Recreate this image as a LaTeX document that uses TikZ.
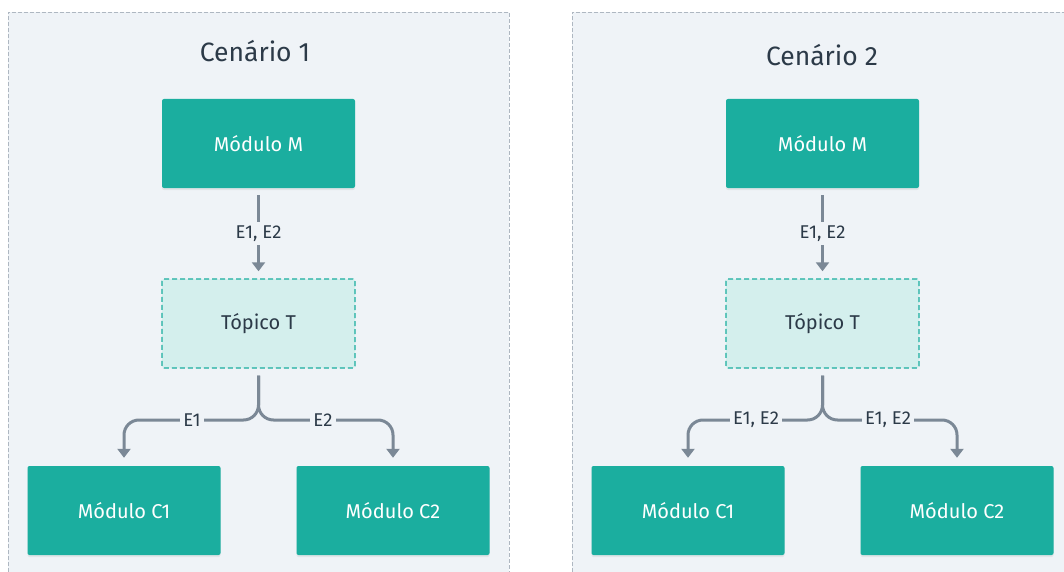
\documentclass[tikz,border=0pt]{standalone}
\usepackage{fontspec}
\setmainfont{Fira Sans}
\usetikzlibrary{arrows.meta,calc,shadows}
\definecolor{teal}{HTML}{1BAE9F}
\definecolor{tealbg}{HTML}{D4EFED}
\definecolor{panelbg}{HTML}{EFF3F7}
\definecolor{panelline}{HTML}{AEB7C1}
\definecolor{conncol}{HTML}{7B8896}
\definecolor{textdark}{HTML}{2C3A48}
\tikzset{
  panelfill/.style={fill=panelbg},
  panel/.style={draw=panelline,dash pattern=on 4pt off 2pt,line width=0.9pt},
  title/.style={font=\fontsize{26.5}{30}\selectfont,text=textdark},
  module/.style={fill=teal,rounded corners=2pt,minimum width=193pt,minimum height=89pt,
    text=white,font=\fontsize{20}{23}\selectfont,
    drop shadow={opacity=0.12,shadow xshift=0pt,shadow yshift=-2pt}},
  topic/.style={fill=tealbg,draw=teal,dash pattern=on 5pt off 3pt,line width=1.4pt,rounded corners=2pt,
    minimum width=193pt,minimum height=89pt,text=textdark,font=\fontsize{20}{23}\selectfont},
  conn/.style={draw=conncol,line width=3pt,-{Triangle[width=13pt,length=9pt]}},
  elabel/.style={fill=panelbg,text=textdark,font=\fontsize{18.5}{21}\selectfont,inner sep=3.5pt},
}
\begin{document}
\begin{tikzpicture}[x=1pt,y=-1pt]
\useasboundingbox (0,0) rectangle (1064,572);
\fill[white] (0,0) rectangle (1064,572);
% panels
\fill[panelfill] (8,12) rectangle (509,590);
\fill[panelfill] (572,12) rectangle (1080,590);
\draw[panel] (8,590) -- (8,12) -- (509,12) -- (509,590);
\draw[panel] (572,590) -- (572,12) -- (1080,12);
\node[title] (t1) at (255,51) {Cenário 1};
\node[title] (t2) at (822,55) {Cenário 2};
% scenario 1
\node[module] (M1) at (258.5,143.5) {Módulo M};
\node[topic] (T1) at (258.5,323.5) {Tópico T};
\node[module] (C11) at (124,510.5) {Módulo C1};
\node[module] (C21) at (393,510.5) {Módulo C2};
% scenario 2
\node[module] (M2) at (822.5,143.5) {Módulo M};
\node[topic] (T2) at (822.5,323.5) {Tópico T};
\node[module] (C12) at (688,510.5) {Módulo C1};
\node[module] (C22) at (957,510.5) {Módulo C2};
\coordinate (h) at (0,420);
% connectors 1
\draw[conn,shorten <=7pt,shorten >=7pt] (M1.south) -- (T1.north) node[elabel,midway] (l1) {E1, E2};
\coordinate (s1) at ($(T1.south)+(0,7)$);
\coordinate (a1) at ($(C11.north)+(0,-8)$);
\coordinate (b1) at ($(C21.north)+(0,-8)$);
\draw[conn,rounded corners=15pt] (s1) -- (s1 |- h) -- (a1 |- h) -- (a1);
\draw[conn,rounded corners=15pt] (s1) -- (s1 |- h) -- (b1 |- h) -- (b1);
\node[elabel] (e11) at (192,420) {E1};
\node[elabel] (e21) at (323,420) {E2};
% connectors 2
\draw[conn,shorten <=7pt,shorten >=7pt] (M2.south) -- (T2.north) node[elabel,midway] (l2) {E1, E2};
\coordinate (s2) at ($(T2.south)+(0,7)$);
\coordinate (a2) at ($(C12.north)+(0,-8)$);
\coordinate (b2) at ($(C22.north)+(0,-8)$);
\draw[conn,rounded corners=15pt] (s2) -- (s2 |- h) -- (a2 |- h) -- (a2);
\draw[conn,rounded corners=15pt] (s2) -- (s2 |- h) -- (b2 |- h) -- (b2);
\node[elabel] (e12) at (756,420) {E1, E2};
\node[elabel] (e22) at (888,420) {E1, E2};
\end{tikzpicture}
\end{document}
